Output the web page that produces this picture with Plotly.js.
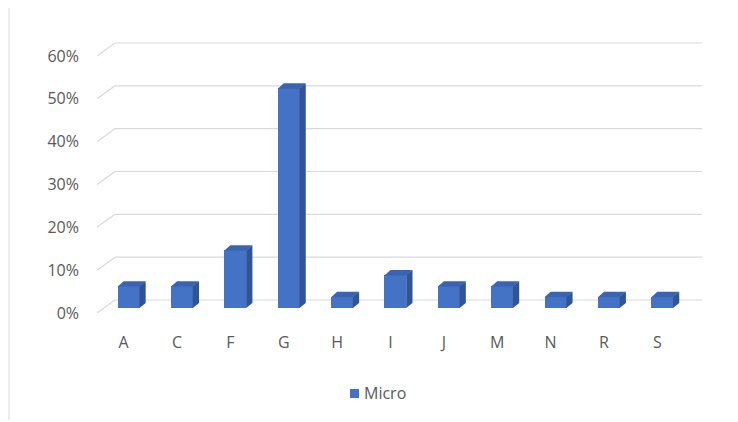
<!DOCTYPE html>
<html>
<head>
<meta charset="utf-8">
<script src="https://cdn.plot.ly/plotly-3.0.1.min.js"></script>
<style>html,body{margin:0;padding:0;background:#fff;}#chart{width:738px;height:422px;}</style>
</head>
<body>
<div id="chart"></div>
<script>
// ---- data ----
const categories = ['A', 'C', 'F', 'G', 'H', 'I', 'J', 'M', 'N', 'R', 'S'];
const microShare = [0.051, 0.051, 0.135, 0.513, 0.026, 0.077, 0.051, 0.051, 0.026, 0.026, 0.026];
const yTickValues = [0, 0.1, 0.2, 0.3, 0.4, 0.5, 0.6];
const seriesName = 'Micro';

// ---- layout geometry (pixels) ----
const W = 738, H = 422;
const plotLeft = 97, plotRight = 702, plotTop = 40, plotBottom = 313;
const wallDepthPx = 18, wallRisePx = 13;       // back wall offset
const pxPerCat = 53.36;
const xRange = [-0.5, -0.5 + (plotRight - plotLeft) / pxPerCat];
const pxPerUnitY = 428.3;
const yRange = [0, (plotBottom - plotTop) / pxPerUnitY];

const cx = px => px / pxPerCat;   // px -> category units
const cy = px => px / pxPerUnitY; // px -> y units

const barShiftX = cx(5), barShiftY = cy(5);
const barWidth = cx(22);
const sideDx = cx(6), sideDy = cy(5);

const idx = categories.map((_, i) => i);

const frontColor = '#4472c4', sideColor = '#2f5597', topColor = '#3a63b0';
const gridColor = '#d9d9d9';
const textColor = '#595959';
const fontFamily = '"Open Sans", "DejaVu Sans", sans-serif';

const shapes = [];
// gridlines: diagonal floor side + horizontal back wall line
const backDx = cx(wallDepthPx), backDy = cy(wallRisePx);
yTickValues.forEach(t => {
  shapes.push({type: 'line', xref: 'x', yref: 'y', layer: 'below',
    x0: -0.5, y0: t, x1: -0.5 + backDx, y1: t + backDy,
    line: {color: gridColor, width: 1.2}});
  shapes.push({type: 'line', xref: 'x', yref: 'y', layer: 'below',
    x0: -0.5 + backDx, y0: t + backDy, x1: xRange[1], y1: t + backDy,
    line: {color: gridColor, width: 1.2}});
});

// 3D faces of bars (side + top), derived from data
idx.forEach(i => {
  const v = microShare[i];
  const xl = i + barShiftX - barWidth / 2;
  const xr = i + barShiftX + barWidth / 2;
  const b = barShiftY, t = barShiftY + v;
  shapes.push({type: 'path', xref: 'x', yref: 'y', layer: 'above',
    path: `M ${xr - 0.005} ${b} L ${xr + sideDx} ${b + sideDy} L ${xr + sideDx} ${t + sideDy} L ${xr - 0.005} ${t} Z`,
    fillcolor: sideColor, line: {width: 0}});
  shapes.push({type: 'path', xref: 'x', yref: 'y', layer: 'above',
    path: `M ${xl} ${t - 0.001} L ${xr} ${t - 0.001} L ${xr + sideDx} ${t + sideDy} L ${xl + sideDx} ${t + sideDy} Z`,
    fillcolor: topColor, line: {width: 0}});
});

// left frame line of chart area
const pxToPaperX = px => (px - plotLeft) / (plotRight - plotLeft);
const pxToPaperY = py => (plotBottom - py) / (plotBottom - plotTop);
shapes.push({type: 'line', xref: 'paper', yref: 'paper',
  x0: pxToPaperX(9), x1: pxToPaperX(9), y0: pxToPaperY(8), y1: pxToPaperY(420),
  line: {color: '#d9d9d9', width: 1}});

// legend key square
shapes.push({type: 'rect', xref: 'paper', yref: 'paper',
  x0: pxToPaperX(350), x1: pxToPaperX(359), y0: pxToPaperY(389), y1: pxToPaperY(398),
  fillcolor: frontColor, line: {width: 0}});

const trace = {
  type: 'bar',
  name: seriesName,
  x: idx.map(i => i + barShiftX),
  y: microShare,
  base: microShare.map(() => barShiftY),
  width: barWidth,
  marker: {color: frontColor, line: {width: 0}},
  showlegend: false,
  hoverinfo: 'skip'
};

const font = {family: fontFamily, size: 16, color: textColor};

const layout = {
  width: W, height: H,
  margin: {l: plotLeft, r: W - plotRight, t: plotTop, b: H - plotBottom, pad: 0},
  paper_bgcolor: '#ffffff', plot_bgcolor: 'rgba(0,0,0,0)',
  font: font,
  showlegend: false,
  annotations: [{
    xref: 'paper', yref: 'paper', x: pxToPaperX(362), y: pxToPaperY(393),
    xanchor: 'left', yanchor: 'middle', showarrow: false,
    text: seriesName, font: {family: fontFamily, size: 16, color: textColor}
  }],
  xaxis: {range: xRange, tickvals: idx, ticktext: categories, showgrid: false, zeroline: false,
    showline: false, ticks: '', ticklabelstandoff: 18, tickfont: font, fixedrange: true},
  yaxis: {range: yRange, tickvals: yTickValues, tickformat: '.0%', showgrid: false, zeroline: false,
    showline: false, ticks: '', ticklabelstandoff: 17, tickfont: font, fixedrange: true},
  shapes: shapes,
  bargap: 0
};

Plotly.newPlot('chart', [trace], layout, {displayModeBar: false, staticPlot: true});
</script>
</body>
</html>
